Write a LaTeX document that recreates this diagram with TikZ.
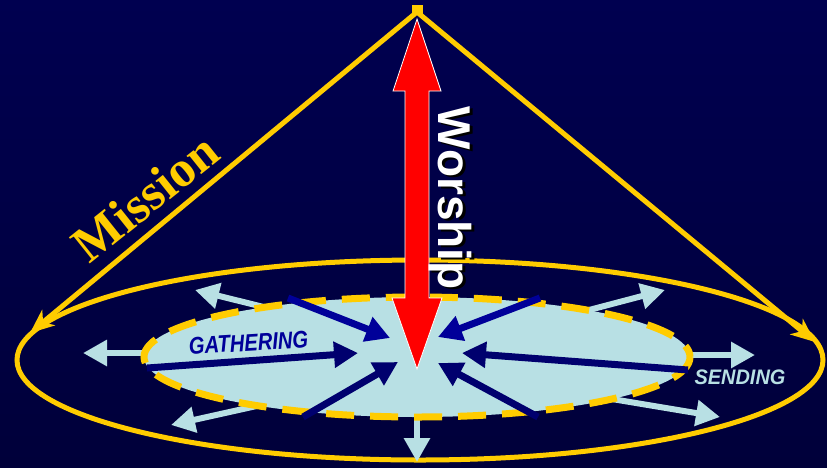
\documentclass[tikz,border=0pt]{standalone}
\usepackage{fontspec}
\setmainfont{Liberation Serif}
\setsansfont{Liberation Sans}
\usetikzlibrary{arrows.meta}

\definecolor{bgtop}{RGB}{0,0,80}
\definecolor{bgmid}{RGB}{0,0,108}
\definecolor{bgbot}{RGB}{0,0,58}
\definecolor{gold}{RGB}{255,204,0}
\definecolor{pale}{RGB}{184,224,228}
\definecolor{navyhi}{RGB}{0,0,153}
\definecolor{navylo}{RGB}{0,0,110}

\begin{document}
\begin{tikzpicture}[
        x=1pt, y=-1pt,
        outarrow/.style={pale, line width=6pt, -{Triangle[length=24pt,width=25pt]}},
        inarrow/.style={line width=7pt, -{Triangle[length=24pt,width=25pt]}},
        conearrow/.style={gold, line width=5pt, -{Stealth[length=24pt,width=20pt,inset=7pt]}},
        label/.style={font=\sffamily\bfseries\itshape\fontsize{24}{24}\selectfont, inner sep=0pt, anchor=base}
    ]
    
    % Background
    \shade[top color=bgtop, middle color=bgmid, bottom color=bgbot] (0,0) rectangle (827,467);
    \useasboundingbox (0,0) rectangle (827,467);
    
    % Base of the cone
    \draw[gold, line width=5pt] (420,360) ellipse [x radius=403, y radius=100];
    
    % Inner circle
    \fill[pale] (417,357) ellipse [x radius=273, y radius=60];
    
    % Outward arrows
    \draw[outarrow] (300,316) -- (195,290);
    \draw[outarrow] (170,353) -- (83,353);
    \draw[outarrow] (270,403) -- (171,425);
    \draw[outarrow] (417,400) -- (417,462);
    \draw[outarrow] (570,315) -- (665,290);
    \draw[outarrow] (670,355) -- (755,355);
    \draw[outarrow] (600,397) -- (720,417);
    
    % Dashed rim
    \draw[gold, line width=7pt, dash pattern=on 28pt off 16pt] (417,357) ellipse [x radius=273, y radius=60];
    
    % Inward arrows
    \draw[inarrow, navyhi] (288,298) -- (390,338);
    \draw[inarrow, navylo] (147,368) -- (358,353);
    \draw[inarrow, navylo] (303,417) -- (398,362);
    \draw[inarrow, navyhi] (540,298) -- (438,337);
    \draw[inarrow, navylo] (688,370) -- (462,353);
    \draw[inarrow, navylo] (538,417) -- (438,363);
    
    % Cone
    \coordinate (apex) at (417,12);
    \coordinate (coneL) at (30,333);
    \coordinate (coneR) at (815,342);
    \draw[conearrow] (apex) -- (coneL);
    \draw[conearrow] (apex) -- (coneR);
    \fill[gold] (411.5,5) rectangle (422.5,15);
    
    % Red double arrow
    \filldraw[fill=red, draw=white, line width=0.8pt]
        (417,19) -- (441,91) -- (429,91) -- (429,298) -- (442,298) -- (417,369)
        -- (392,298) -- (405,298) -- (405,91) -- (393,91) -- cycle;
    
    % Texts
    \node[font=\bfseries\fontsize{51}{51}\selectfont, text=gold, rotate=38.6, anchor=base, inner sep=0pt] (mission) at (156,211) {Mission};
    \node[font=\sffamily\bfseries\fontsize{46}{46}\selectfont, text=black, rotate=-90, anchor=base, inner sep=0pt] (worshipshadow) at (441,200) {Worship};
    \node[font=\sffamily\bfseries\fontsize{46}{46}\selectfont, text=white, rotate=-90, anchor=base, inner sep=0pt] (worship) at (438,198) {Worship};
    \node[label, text=navyhi, rotate=3.5, xscale=0.84] (gathering) at (249,351) {GATHERING};
    \node[label, font=\sffamily\bfseries\itshape\fontsize{21}{21}\selectfont, text=pale, xscale=0.95] (sending) at (740,384) {SENDING};
    
\end{tikzpicture}
\end{document}
